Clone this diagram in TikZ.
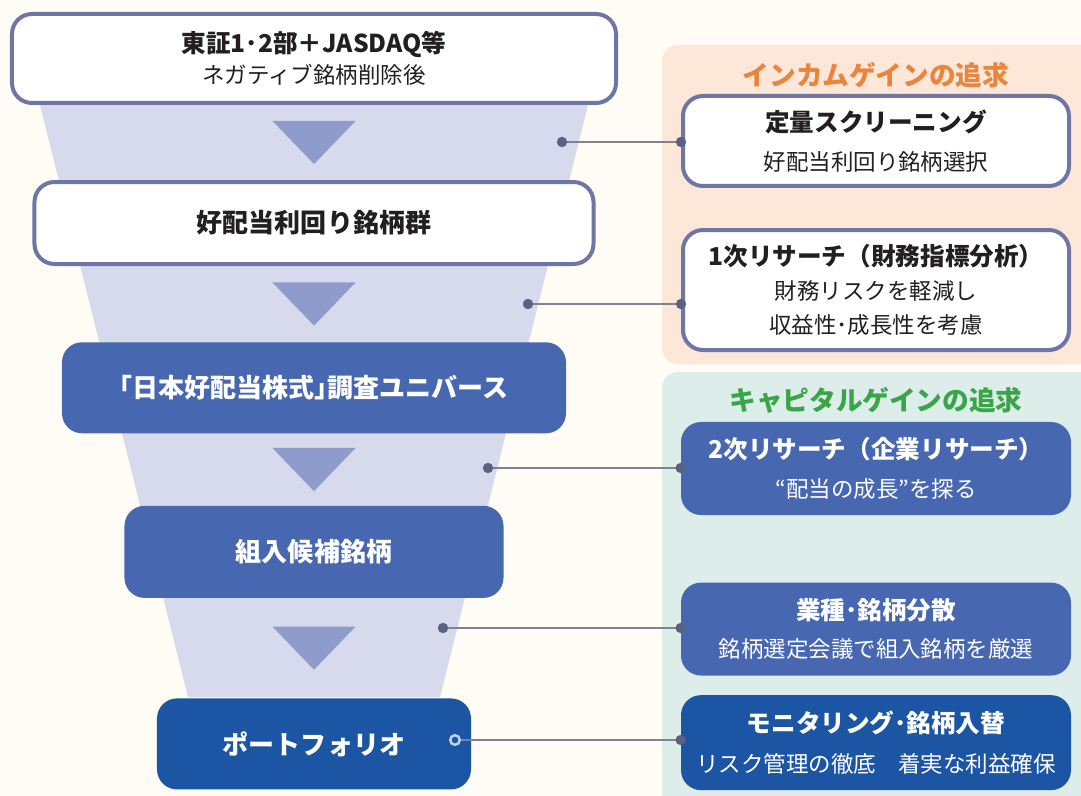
\documentclass[tikz,border=0pt]{standalone}
\usepackage{fontspec}
\setmainfont{Noto Sans CJK JP}
\usepackage{tikz}
\usetikzlibrary{calc}
\usetikzlibrary{positioning}
\definecolor{paper}{HTML}{FEFCF4}
\definecolor{funnel}{HTML}{D6DAEC}
\definecolor{trifill}{HTML}{8F9BCB}
\definecolor{boxline}{HTML}{6F75A5}
\definecolor{midblue}{HTML}{4767B1}
\definecolor{darkblue}{HTML}{1C55A4}
\definecolor{peach}{HTML}{FCE7D9}
\definecolor{incomeorange}{HTML}{E8853F}
\definecolor{mint}{HTML}{DDEEEA}
\definecolor{capitalgreen}{HTML}{3AA548}
\definecolor{linkgray}{HTML}{7E8292}
\definecolor{dotgray}{HTML}{5C6182}
\definecolor{ringblue}{HTML}{C3D3F0}
\definecolor{inktext}{HTML}{231F20}
\newcommand*{\HeadFont}{\fontsize{17.5}{28}\selectfont\bfseries}
\newcommand*{\LeftFont}{\fontsize{18.5}{24}\selectfont\bfseries}
\newcommand*{\TitleFont}{\fontsize{19}{24}\selectfont\bfseries}
\pgfdeclarelayer{bglower}
\pgfdeclarelayer{lower}
\pgfsetlayers{bglower,lower,main}
\tikzstyle{whitebox}=[rectangle, draw=boxline, line width=1mm, fill=white, rounded corners=5mm, align=center, text=inktext]
\tikzstyle{bluebox}=[rectangle, fill=midblue, rounded corners=5mm, align=center, text=white]
\tikzstyle{deepbox}=[rectangle, fill=darkblue, rounded corners=5mm, align=center, text=white]
\tikzstyle{panel}=[rounded corners=4mm]
\tikzstyle{link}=[linkgray, line width=0.5mm]
\tikzstyle{enddot}=[fill=dotgray]

\begin{document}
\begin{tikzpicture}[x=0.25mm, y=-0.25mm]
    \useasboundingbox (0,0) rectangle (1081,796);
    \begin{pgfonlayer}{bglower}
        \fill[paper] (0,0) rectangle (1081,796);
        \fill[peach, panel] (662,45) rectangle (1095,364);
        \fill[mint, panel] (662,372) rectangle (1095,812);
    \end{pgfonlayer}
    \begin{pgfonlayer}{lower}
        \fill[funnel] (40,105) -- (588,105) -- (440,697) -- (188,697) -- cycle;
    \end{pgfonlayer}
    % funnel stages
    \node[whitebox, minimum width=151mm, minimum height=22.25mm, font=\fontsize{16}{22}\selectfont] at (314,58.5)
    (s1) {{\HeadFont 東証1･2部＋JASDAQ等}\\ネガティブ銘柄削除後};
    \node[whitebox, minimum width=139.75mm, minimum height=20.5mm, below=18.75mm of s1]
    (s2) {\LeftFont 好配当利回り銘柄群};
    \node[bluebox, minimum width=126mm, minimum height=22.75mm, below=19mm of s2]
    (s3) {\LeftFont ｢日本好配当株式｣調査ユニバース};
    \node[bluebox, minimum width=94.75mm, minimum height=23mm, below=18mm of s3]
    (s4) {\LeftFont 組入候補銘柄};
    \node[deepbox, minimum width=78.5mm, minimum height=22.75mm, below=25mm of s4]
    (s5) {\LeftFont ポートフォリオ};
    \foreach \a/\b in {s1/s2,s2/s3,s3/s4,s4/s5}
        \fill[trifill] ($(\a.south)!0.5!(\b.north)$) ++(-10.4mm,5.4mm) -- ++(20.8mm,0) -- ++(-10.4mm,-10.8mm) -- cycle;
    % income side
    \node[text=incomeorange, font=\TitleFont] at (876,75) (g1) {インカムゲインの追求};
    \node[whitebox, minimum width=96.5mm, minimum height=22.5mm, font=\fontsize{16}{28}\selectfont] at (876,141)
    (r1) {{\HeadFont 定量スクリーニング}\\好配当利回り銘柄選択};
    \node[whitebox, minimum width=96.5mm, minimum height=30mm, below=10mm of r1, font=\fontsize{16}{24}\selectfont]
    (r2) {{\HeadFont 1次リサーチ（財務指標分析）}\\財務リスクを軽減し\\収益性･成長性を考慮};
    % capital side
    \node[text=capitalgreen, font=\TitleFont] at (876,400) (g2) {キャピタルゲインの追求};
    \node[bluebox, minimum width=97.5mm, minimum height=23.25mm, font=\fontsize{16}{28}\selectfont] at (876,468.5)
    (r3) {{\HeadFont 2次リサーチ（企業リサーチ）}\\“配当の成長”を探る};
    \node[bluebox, minimum width=97.5mm, minimum height=23.25mm, below=16.75mm of r3, font=\fontsize{16}{27}\selectfont]
    (r4) {{\HeadFont 業種･銘柄分散}\\銘柄選定会議で組入銘柄を厳選};
    \node[deepbox, minimum width=97.5mm, minimum height=23.75mm, below=4.75mm of r4, font=\fontsize{16}{28}\selectfont]
    (r5) {{\HeadFont モニタリング･銘柄入替}\\リスク管理の徹底　着実な利益確保};
    % connectors
    \coordinate (d1) at (562,142);
    \coordinate (d2) at (528,304);
    \coordinate (d3) at (488,468);
    \coordinate (d4) at (443,628);
    \coordinate (d5) at (455,740);
    \foreach \d/\r in {d1/r1,d2/r2,d3/r3,d4/r4}{
        \draw[link] (\d) -- (\d -| \r.west);
        \fill[enddot] (\d) circle (1.3mm);
        \fill[enddot] (\d -| \r.west) circle (1.3mm);
    }
    \draw[link] (d5) -- (d5 -| r5.west);
    \fill[enddot] (d5 -| r5.west) circle (1.3mm);
    \draw[ringblue, line width=0.6mm, fill=darkblue] (d5) circle (1.2mm);
\end{tikzpicture}
\end{document}
